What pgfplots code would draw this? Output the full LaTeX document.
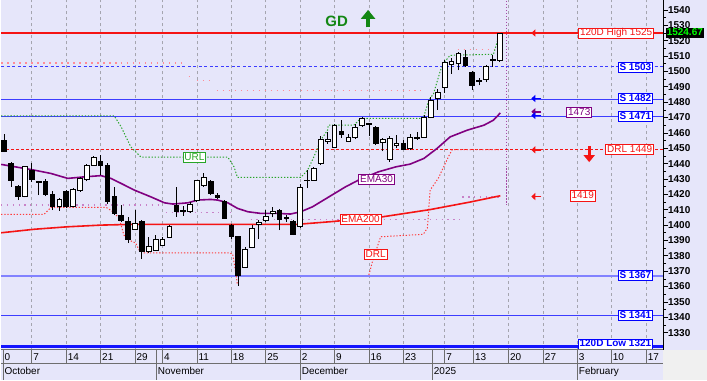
\documentclass[border=0pt]{standalone}
\usepackage{pgfplots}
\pgfplotsset{compat=1.18}
\usepackage{pgfplotstable}
\usetikzlibrary{arrows.meta,backgrounds}
\usepackage{fontspec}
\setmainfont{Liberation Sans}

\definecolor{bg}{RGB}{230,230,250}
\definecolor{corner}{RGB}{240,240,240}
\definecolor{gridc}{RGB}{165,165,175}
\definecolor{hired}{RGB}{245,20,20}
\definecolor{sblue}{RGB}{60,60,255}
\definecolor{lblue}{RGB}{130,130,255}
\definecolor{dblue}{RGB}{20,20,255}
\definecolor{tblue}{RGB}{0,0,255}
\definecolor{emap}{RGB}{128,0,128}
\definecolor{urlg}{RGB}{40,165,40}
\definecolor{drlr}{RGB}{255,60,60}
\definecolor{pinkd}{RGB}{255,140,150}
\definecolor{mauve}{RGB}{200,130,200}
\definecolor{gdg}{RGB}{20,135,20}
\definecolor{sepc}{RGB}{110,110,110}
\definecolor{brightg}{RGB}{0,255,0}

\pgfplotstableread{
i O H L C
0 1455.0 1459.2 1447.5 1447.7
1 1440.1 1441.0 1424.9 1428.8
2 1424.9 1426.0 1416.3 1418.9
3 1418.9 1438.5 1418.0 1437.9
4 1435.8 1440.5 1428.2 1429.7
5 1428.0 1429.0 1419.5 1428.5
6 1428.6 1429.7 1418.9 1420.0
7 1420.2 1422.3 1409.8 1412.4
8 1412.0 1417.4 1409.3 1416.7
9 1421.7 1423.0 1411.0 1412.4
10 1412.4 1424.0 1411.5 1423.4
11 1422.3 1431.4 1421.7 1430.1
12 1429.7 1440.0 1428.5 1438.6
13 1439.0 1445.1 1438.5 1443.8
14 1441.2 1445.5 1432.5 1439.0
15 1438.6 1440.5 1414.0 1415.2
16 1418.4 1425.0 1406.5 1407.7
17 1406.1 1413.0 1402.2 1402.8
18 1402.2 1405.4 1388.2 1390.8
19 1397.3 1409.8 1396.8 1401.2
20 1402.6 1403.0 1377.8 1382.7
21 1382.7 1392.4 1381.7 1386.0
22 1383.8 1393.5 1383.0 1390.8
23 1387.0 1392.0 1386.4 1390.8
24 1392.1 1400.0 1391.5 1399.4
25 1413.0 1424.9 1405.4 1408.7
26 1409.0 1412.4 1406.0 1409.3
27 1408.7 1415.0 1408.0 1413.7
28 1415.8 1429.5 1415.0 1428.8
29 1426.0 1433.6 1425.0 1430.8
30 1428.2 1429.5 1419.4 1420.6
31 1419.5 1420.6 1416.7 1418.0
32 1415.2 1416.3 1404.0 1404.4
33 1400.0 1401.0 1391.0 1392.9
34 1392.9 1393.0 1360.5 1367.6
35 1372.6 1385.6 1372.0 1384.3
36 1385.6 1400.0 1385.0 1397.9
37 1400.5 1403.3 1390.8 1402.0
38 1402.8 1409.8 1402.0 1405.9
39 1407.5 1411.5 1405.0 1408.7
40 1409.3 1410.5 1396.8 1403.8
41 1404.5 1406.5 1402.0 1405.0
42 1402.2 1403.0 1393.5 1394.2
43 1398.9 1426.5 1398.0 1424.5
44 1429.0 1435.8 1424.0 1429.3
45 1429.3 1437.9 1429.0 1436.9
46 1440.1 1457.9 1439.0 1455.7
47 1454.5 1460.7 1453.1 1456.0
48 1450.9 1466.1 1450.0 1465.0
49 1461.3 1468.3 1457.0 1459.2
50 1454.8 1459.2 1454.0 1457.4
51 1457.0 1466.1 1456.0 1463.9
52 1465.0 1470.5 1464.0 1469.4
53 1465.5 1466.5 1457.9 1465.9
54 1463.5 1464.5 1452.0 1453.1
55 1453.8 1456.5 1448.0 1455.6
56 1442.7 1458.0 1441.2 1456.4
57 1452.0 1458.5 1449.9 1453.1
58 1453.3 1455.5 1449.0 1449.6
59 1449.9 1459.6 1448.8 1457.4
60 1456.5 1460.7 1455.7 1457.0
61 1457.4 1471.5 1456.7 1470.0
62 1470.4 1483.4 1469.7 1481.3
63 1482.4 1488.9 1475.2 1486.7
64 1489.9 1507.3 1486.0 1506.2
65 1504.7 1508.5 1498.6 1506.8
66 1505.5 1512.7 1500.8 1511.6
67 1509.4 1513.8 1503.2 1504.0
68 1499.7 1500.3 1488.2 1491.0
69 1493.6 1495.5 1491.0 1494.3
70 1494.7 1504.5 1493.0 1503.4
71 1507.5 1510.5 1503.0 1507.8
72 1507.3 1525.0 1506.0 1524.67
}\candles

\newcommand\lf{\fontsize{10}{11}\selectfont}

\begin{document}
\begin{tikzpicture}[x=1pt,y=1pt,
  lbl/.style={draw=#1, text=#1, fill=white, line width=0.8pt, inner xsep=1.5pt, inner ysep=0.6pt, text height=7.3pt, text depth=1.6pt, font=\lf},
  larr/.style={#1, line width=1.8pt, -{Triangle[length=4pt,width=7pt]}}]

\begin{axis}[name=ax, at={(0,30)}, anchor=south west, width=663pt, height=350pt, scale only axis,
  xmin=-0.435, xmax=95.75, ymin=1318.83, ymax=1546.25,
  axis x line=none, axis y line*=right,
  axis line style={black, line width=0.8pt, -},
  ytick={1330,1340,...,1540}, minor y tick num=1,
  tick align=outside, major tick length=5pt, minor tick length=3pt,
  ytick style={black, line width=0.7pt},
  yticklabel style={font=\bfseries\lf, text=black, xshift=-3.5pt},
  /pgf/number format/1000 sep={}, /pgf/number format/assume math mode=true,
  clip=false, unbounded coords=jump]

\coordinate (O) at (axis cs:-0.435,1318.83);

% level lines
\addplot[hired, line width=1.6pt] coordinates {(-0.435,1525) (95.75,1525)};
\addplot[sblue, line width=0.9pt, dash pattern=on 3pt off 2.5pt] coordinates {(-0.435,1503) (95.75,1503)};
\addplot[sblue, line width=0.9pt] coordinates {(-0.435,1482) (95.75,1482)};
\addplot[sblue, line width=0.9pt] coordinates {(-0.435,1471) (95.75,1471)};
\addplot[hired, line width=0.8pt, dash pattern=on 3pt off 2pt] coordinates {(-0.435,1449) (95.75,1449)};
\addplot[lblue, line width=1.8pt] coordinates {(-0.435,1367) (95.75,1367)};
\addplot[sblue, line width=0.9pt] coordinates {(-0.435,1341) (95.75,1341)};
\addplot[dblue, line width=2.4pt] coordinates {(-0.435,1321) (95.75,1321)};

% pink resistance dots
\addplot[pinkd, line width=1.3pt, dash pattern=on 1.5pt off 4.5pt] coordinates {(-0.435,1505.5) (25.9,1505.5) (26.2,nan) (26.8,1496.9) (27.6,1496.9) (27.8,nan) (28.0,1494.3) (30.0,1494.3) (30.4,nan) (30.9,1487.6) (60.5,1487.6) (63,nan) (65.9,1514.2) (72.1,1514.2)};
% mauve dots
\addplot[mauve, line width=1.3pt, dash pattern=on 1.3pt off 4.5pt] coordinates {(-0.435,1413.0) (22.8,1413.0) (23.1,nan) (23.5,1408.0) (32.9,1408.0) (34,nan) (35.8,1403.7) (66.3,1403.7) (66.4,nan) (66.6,1418.2) (72.1,1418.2)};
% URL
\addplot[urlg, line width=1pt, dash pattern=on 1.3pt off 1.8pt] coordinates {(-0.435,1471.1) (16.0,1471.1) (17.0,1463.9) (18.4,1450.9) (19.9,1444.2) (32.5,1444.2) (33.4,1437.9) (33.9,1431.0) (43.1,1431.0) (44.1,1435.8) (45.0,1444.4) (46.0,1455.3) (47.0,1461.8) (47.1,1465.0) (50.8,1465.0) (51.8,1469.4) (60.9,1469.4) (61.7,1481.3) (62.4,1485.6) (63.4,1500.8) (64.0,1506.2) (64.8,1510.5) (71.1,1511.2) (71.8,1521.6) (72.1,1524.6)};
% DRL
\addplot[drlr, line width=1pt, dash pattern=on 1.3pt off 1.8pt] coordinates {(-0.435,1407.0) (5.8,1407.0) (6.8,1411.6) (14.8,1411.6) (15.8,1408.7) (16.7,1404.6) (17.4,1393.5) (18.1,1390.3) (19.1,1388.4) (19.6,1383.8) (20.3,1382.0) (32.6,1382.0) (33.2,1381.2) (33.7,1367.6) (33.9,1361.1) (40,nan) (53,1367.6) (53.5,1376.0) (54.7,1392.4) (60.9,1394.0) (61.5,1398.1) (61.9,1422.8) (63.1,1430.6) (64.6,1444.9) (65.1,1449.1) (72.1,1449.1)};
% today marker
\addplot[emap!70, line width=0.9pt, dash pattern=on 1.2pt off 1.8pt] coordinates {(73.0,1546) (73.0,1413)};
% EMA200
\addplot[hired, line width=1.6pt] coordinates {(-0.435,1395.0) (4.4,1397.3) (9.2,1398.9) (14.1,1400.0) (18.9,1400.5) (33.4,1400.5) (42.6,1400.5) (47.4,1402.2) (54.7,1405.2) (61.9,1410.1) (67.7,1415.0) (72.1,1419.1)};
% EMA30
\addplot[emap, line width=1.6pt] coordinates {(-0.435,1439.5) (4.35,1435.8) (6.8,1433.6) (9.24,1430.4) (11.65,1431.4) (14.07,1432.2) (15.5,1430.4) (17.0,1427.1) (18.9,1422.8) (21.3,1418.4) (23.3,1414.5) (24.5,1413.7) (26.7,1414.5) (28.1,1416.3) (30.0,1416.7) (31.0,1416.3) (32.5,1414.5) (33.9,1410.9) (35.4,1408.7) (37.3,1407.6) (39.7,1407.6) (41.6,1407.2) (43.1,1408.7) (44.8,1411.9) (47.2,1418.4) (49.6,1424.9) (51.5,1429.3) (54.4,1434.7) (56.9,1437.9) (59.0,1439.7) (61.0,1443.4) (62.9,1449.9) (64.8,1457.4) (67.3,1461.8) (69.7,1465.0) (71.1,1468.3) (72.1,1473.0)};

% candles
\pgfplotsinvokeforeach{0,...,72}{%
  \pgfplotstablegetelem{#1}{i}\of\candles\let\cI\pgfplotsretval
  \pgfplotstablegetelem{#1}{O}\of\candles\let\cO\pgfplotsretval
  \pgfplotstablegetelem{#1}{H}\of\candles\let\cH\pgfplotsretval
  \pgfplotstablegetelem{#1}{L}\of\candles\let\cL\pgfplotsretval
  \pgfplotstablegetelem{#1}{C}\of\candles\let\cC\pgfplotsretval
  \pgfmathsetmacro\xa{\cI-0.34}%
  \pgfmathsetmacro\xb{\cI+0.34}%
  \pgfmathsetmacro\lo{min(\cO,\cC)}%
  \pgfmathsetmacro\hi{max(\cO,\cC)}%
  \pgfmathtruncatemacro\dn{\cC<\cO}%
  \ifnum\dn=1 \def\fc{black}\else\def\fc{white}\fi
  \edef\tmp{\noexpand\draw[black, line width=0.75pt] (axis cs:\cI,\cL) -- (axis cs:\cI,\cH);
    \noexpand\filldraw[fill=\fc, draw=black, line width=0.75pt] (axis cs:\xa,\lo) rectangle (axis cs:\xb,\hi);}%
  \tmp
}

% labels
\node[lbl=hired, anchor=east] at (axis cs:94.44,1525) {120D High 1525};
\node[lbl=tblue, anchor=east, font=\bfseries\lf] at (axis cs:94.3,1502.6) {S 1503};
\node[lbl=tblue, anchor=east, font=\bfseries\lf] at (axis cs:94.3,1482.2) {S 1482};
\node[lbl=tblue, anchor=east, font=\bfseries\lf] at (axis cs:94.3,1470.6) {S 1471};
\node[lbl=hired, anchor=east] at (axis cs:94.44,1449) {DRL 1449};
\node[lbl=tblue, anchor=east, font=\bfseries\lf] at (axis cs:94.3,1367) {S 1367};
\node[lbl=tblue, anchor=east, font=\bfseries\lf] at (axis cs:94.3,1341) {S 1341};
\node[lbl=tblue, anchor=east, font=\bfseries\lf] at (axis cs:94.3,1322.6) {120D Low 1321};
\node[lbl=emap] at (axis cs:83.56,1473.5) {1473};
\node[lbl=hired] at (axis cs:84.07,1419) {1419};
\node[lbl=emap] at (axis cs:54.11,1429.9) {EMA30};
\node[lbl=hired] at (axis cs:51.79,1403.6) {EMA200};
\node[lbl=hired] at (axis cs:53.97,1380.9) {DRL};
\node[lbl=urlg] at (axis cs:27.64,1444.2) {URL};
\end{axis}

% background and grid behind the axis
\begin{scope}[on background layer, shift={(O)}, yshift=-30pt]
\fill[bg] (0,0) rectangle (707,380);
\fill[corner] (663,0) rectangle (707,30);
\foreach \g in {4,9,14,19,23,28,33,38,43,48,53,58,64,68.18,73.26,78.34,83.27,88.2,93.28}
  \draw[gridc, line width=0.7pt, dash pattern=on 3pt off 3pt] ({3+6.893*\g},30) -- ({3+6.893*\g},380);
\end{scope}

\begin{scope}[shift={(O)}, yshift=-30pt]
% date band
\draw[sepc, line width=0.7pt] (0,30) -- (663,30);
\draw[sepc, line width=0.7pt] (0,16.7) -- (663,16.7);
\foreach \g/\l in {-0.19/0,4/7,9/14,14/21,19/29,23/4,28/11,33/18,38/25,43/2,48/9,53/16,58/23,64/7,68.18/13,73.26/20,78.34/27,83.27/3,88.2/10,93.28/17}{
  \draw[sepc, line width=0.7pt] ({3+6.893*\g},30) -- ({3+6.893*\g},16.7);
  \node[anchor=base west, font=\lf, inner sep=0pt] at ({3+6.893*\g+1.5},19.3) {\l};
}
\foreach \g/\l in {-0.19/October,22.1/November,43/December,62.2/2025,83.27/February}{
  \draw[sepc, line width=0.7pt] ({3+6.893*\g},30) -- ({3+6.893*\g},0);
  \node[anchor=base west, font=\lf, inner sep=0pt] at ({3+6.893*\g+1.5},5.6) {\l};
}
% arrows
\draw[larr=hired] (541,347.3) -- (531,347.3);
\draw[larr=tblue] (541,281.7) -- (531,281.7);
\draw[larr=emap] (541,268.5) -- (531,268.5);
\draw[larr=tblue] (541,264.7) -- (531,264.7);
\draw[larr=hired] (541,230.3) -- (531,230.3);
\draw[larr=hired] (541,183.5) -- (531,183.5);
\draw[hired, line width=3pt, -{Triangle[width=11pt,length=7pt]}] (589,234) -- (589,218);
\draw[gdg, line width=4pt, -{Triangle[width=14pt,length=9pt]}] (367.5,353) -- (367.5,370.5);
\node[font=\bfseries\fontsize{15}{16}\selectfont, text=gdg] at (336,359.5) {GD};
% last price
\node[fill=black, text=brightg, font=\bfseries\lf, inner xsep=1pt, inner ysep=1pt, text height=7pt, text depth=1.5pt, anchor=west] at (665.5,347.2) {1524.67};
\end{scope}
\end{tikzpicture}
\end{document}
